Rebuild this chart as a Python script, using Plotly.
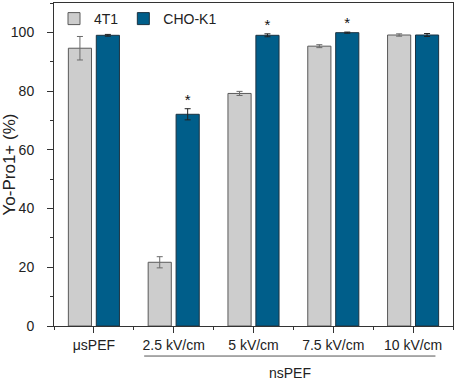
import plotly.graph_objects as go
import numpy as np

categories = ["μsPEF", "2.5 kV/cm", "5 kV/cm", "7.5 kV/cm", "10 kV/cm"]
t41_values = [94.6, 21.7, 79.2, 95.3, 99.1]
t41_errors = [4.0, 1.9, 0.7, 0.5, 0.4]
cho_values = [99.0, 72.1, 99.0, 99.9, 99.1]
cho_errors = [0.3, 1.9, 0.5, 0.2, 0.5]
cho_significant = [False, True, True, True, False]
group_label = "nsPEF"
y_title = "Yo-Pro1+ (%)"

FONT = "Arial, Liberation Sans, sans-serif"
GRAY = "#cdcdcd"
BLUE = "#005e8a"

xpos = np.arange(len(categories))

fig = go.Figure()
fig.add_trace(go.Bar(
    x=xpos, y=t41_values, name="4T1", offset=-0.32, width=0.29,
    marker=dict(color=GRAY, line=dict(color="#5a5a5a", width=1)),
    error_y=dict(type="data", array=t41_errors, color="#6a6a6a", thickness=1, width=3),
))
fig.add_trace(go.Bar(
    x=xpos, y=cho_values, name="CHO-K1", offset=0.03, width=0.29,
    marker=dict(color=BLUE, line=dict(color="#1c3342", width=1)),
    error_y=dict(type="data", array=cho_errors, color="#222222", thickness=1, width=3),
))

sx = [x + 0.175 for x, s in zip(xpos, cho_significant) if s]
sy = [v + e for v, e, s in zip(cho_values, cho_errors, cho_significant) if s]
fig.add_trace(go.Scatter(
    x=sx, y=sy, mode="text", text=["*"] * len(sx), textposition="top center",
    textfont=dict(family=FONT, size=15, color="#111111"), showlegend=False, hoverinfo="skip",
))

# nsPEF grouping line and label
fig.add_shape(type="line", xref="x", yref="paper", x0=0.63, x1=4.28, y0=-0.093, y1=-0.093,
              line=dict(color="#555555", width=1))
fig.add_annotation(text=group_label, xref="x", yref="paper", x=2.46, y=-0.147,
                   xanchor="center", yanchor="middle",
                   showarrow=False, font=dict(family=FONT, size=14, color="#222222"))

fig.update_layout(
    width=457, height=382,
    margin=dict(l=54, r=4, t=3, b=56, autoexpand=False),
    plot_bgcolor="white", paper_bgcolor="white",
    font=dict(family=FONT, size=14, color="#222222"),
    barmode="overlay",
    legend=dict(orientation="h", x=0.0, y=1.0, xanchor="left", yanchor="top",
                font=dict(family=FONT, size=14, color="#222222"),
                bgcolor="rgba(0,0,0,0)", itemwidth=30, tracegroupgap=0),
    xaxis=dict(
        range=[-0.5, 4.5], tickmode="array", tickvals=list(xpos), ticktext=categories,
        automargin=False,
        showgrid=False, zeroline=False, showline=True, linecolor="#333333", linewidth=1,
        mirror=True, ticks="outside", ticklen=6, tickcolor="#333333",
        minor=dict(tickmode="linear", tick0=-0.5, dtick=0.5, ticks="outside", ticklen=3,
                   tickcolor="#333333", showgrid=False),
        tickfont=dict(family=FONT, size=14, color="#222222"),
    ),
    yaxis=dict(
        range=[0, 110], dtick=20, showgrid=False, zeroline=False, automargin=False,
        showline=True, linecolor="#333333", linewidth=1, mirror=True,
        ticks="outside", ticklen=6, tickcolor="#333333", ticklabelstandoff=10,
        minor=dict(dtick=10, ticks="outside", ticklen=3, tickcolor="#333333", showgrid=False),
        tickfont=dict(family=FONT, size=14, color="#222222"),
        title=dict(text=y_title, font=dict(family=FONT, size=17, color="#222222"), standoff=4),
    ),
)

fig.write_html("out.html", config={"displayModeBar": False},
               post_script="document.body.style.margin='0px';")
